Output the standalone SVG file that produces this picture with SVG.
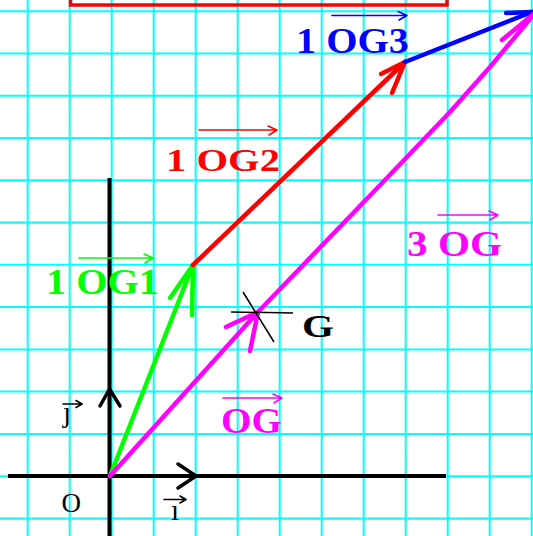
<svg xmlns="http://www.w3.org/2000/svg" width="533" height="536" viewBox="0 0 533 536">
<defs>
<style>
.grid line{stroke:#00FFFF;stroke-width:2}
.axis{stroke:#000;stroke-width:4;fill:none}
.axhead{stroke:#000;stroke-width:3.5;fill:none;stroke-linecap:round;stroke-linejoin:round}
.vec{fill:none;stroke-width:4.5;stroke-linecap:round;stroke-linejoin:round}
.over{fill:none;stroke-width:1.6;stroke-linecap:round;stroke-linejoin:round}
.lbl{font-family:"Liberation Serif","Times New Roman",serif;font-weight:bold}
.plain{font-family:"Liberation Serif","Times New Roman",serif;fill:#000}
</style>
</defs>
<rect width="533" height="536" fill="#FFFFFF"/>
<g class="grid" id="grid">
<line x1="27.7" y1="0" x2="27.7" y2="536"/>
<line x1="69.7" y1="0" x2="69.7" y2="536"/>
<line x1="111.7" y1="0" x2="111.7" y2="536"/>
<line x1="153.7" y1="0" x2="153.7" y2="536"/>
<line x1="195.7" y1="0" x2="195.7" y2="536"/>
<line x1="237.7" y1="0" x2="237.7" y2="536"/>
<line x1="279.7" y1="0" x2="279.7" y2="536"/>
<line x1="321.7" y1="0" x2="321.7" y2="536"/>
<line x1="363.7" y1="0" x2="363.7" y2="536"/>
<line x1="405.7" y1="0" x2="405.7" y2="536"/>
<line x1="447.7" y1="0" x2="447.7" y2="536"/>
<line x1="489.7" y1="0" x2="489.7" y2="536"/>
<line x1="531.7" y1="0" x2="531.7" y2="536"/>
<line x1="0" y1="11.2" x2="533" y2="11.2"/>
<line x1="0" y1="53.5" x2="533" y2="53.5"/>
<line x1="0" y1="95.7" x2="533" y2="95.7"/>
<line x1="0" y1="138" x2="533" y2="138"/>
<line x1="0" y1="180.3" x2="533" y2="180.3"/>
<line x1="0" y1="222.5" x2="533" y2="222.5"/>
<line x1="0" y1="264.8" x2="533" y2="264.8"/>
<line x1="0" y1="307.1" x2="533" y2="307.1"/>
<line x1="0" y1="349.4" x2="533" y2="349.4"/>
<line x1="0" y1="391.6" x2="533" y2="391.6"/>
<line x1="0" y1="433.9" x2="533" y2="433.9"/>
<line x1="0" y1="476.2" x2="533" y2="476.2"/>
<line x1="0" y1="518.4" x2="533" y2="518.4"/>
</g>
<rect id="frame" x="70.5" y="-20" width="376.5" height="25" fill="none" stroke="#FF0000" stroke-width="3.5"/>
<g id="axes">
<line class="axis" x1="8" y1="476" x2="446" y2="476"/>
<line class="axis" x1="109.5" y1="178" x2="109.5" y2="536"/>
<polyline class="axhead" points="178,464 196,476 178,488"/>
<polyline class="axhead" points="100,406 109.5,389 120,406"/>
</g>
<g id="connectors">
<g id="vec-OG1" stroke="#00FF00">
<line class="vec" x1="110" y1="476" x2="193" y2="265"/>
<polyline class="vec" points="170,298 193,265 192,315"/>
</g>
<g id="vec-OG2" stroke="#FF0000">
<line class="vec" x1="193" y1="265" x2="405" y2="62"/>
<polyline class="vec" points="381,74 405,62 392,93"/>
</g>
<g id="vec-OG3" stroke="#0000FF">
<line class="vec" x1="405" y1="62" x2="532" y2="12"/>
<polyline class="vec" points="506,13 532,12"/>
</g>
<g id="vec-3OG" stroke="#FF00FF">
<polyline class="vec" points="110,476 258,312 384,181 450,112 490,67 536,12"/>
<polyline class="vec" points="226,327 258,312 250,351"/>
<polyline class="vec" points="502,40 536,12"/>
</g>
</g>
<g id="G-mark" stroke="#000" stroke-width="1.5">
<line x1="231" y1="312" x2="293" y2="313"/>
<line x1="243" y1="292" x2="274" y2="342"/>
</g>
<g id="label-OG1">
<path class="over" stroke="#00FF00" d="M79 258 H153 M144 254 L153 258 L145 263"/>
<text class="lbl" fill="#00FF00" x="46" y="294" font-size="35" textLength="113" lengthAdjust="spacingAndGlyphs">1 OG1</text>
</g>
<g id="label-OG2">
<path class="over" stroke="#FF0000" d="M199 130 H277 M268 126 L277 130 L269 135"/>
<text class="lbl" fill="#FF0000" x="166" y="171" font-size="32" textLength="114" lengthAdjust="spacingAndGlyphs">1 OG2</text>
</g>
<g id="label-OG3">
<path class="over" stroke="#0000FF" d="M332 15.5 H407 M398 11.5 L407 15.5 L399 20"/>
<text class="lbl" fill="#0000FF" x="296" y="52.5" font-size="36" textLength="113" lengthAdjust="spacingAndGlyphs">1 OG3</text>
</g>
<g id="label-3OG">
<path class="over" stroke="#FF00FF" d="M438 215 H498 M489 211 L498 215 L490 220"/>
<text class="lbl" fill="#FF00FF" x="407" y="256" font-size="35" textLength="95" lengthAdjust="spacingAndGlyphs">3 OG</text>
</g>
<g id="label-OG">
<path class="over" stroke="#FF00FF" d="M223 398 H282 M273 394 L282 398 L274 403"/>
<text class="lbl" fill="#FF00FF" x="221" y="433" font-size="35" textLength="61" lengthAdjust="spacingAndGlyphs">OG</text>
</g>
<g id="label-G">
<text class="lbl" fill="#000" x="302" y="337" font-size="31" textLength="32" lengthAdjust="spacingAndGlyphs">G</text>
</g>
<g id="label-O">
<text class="plain" x="61.5" y="512" font-size="27">O</text>
</g>
<g id="label-i">
<path class="over" stroke="#000" stroke-width="1.3" d="M164 499.5 H186 M180 496 L186 499.5 L180 503"/>
<text class="plain" x="175" y="520" font-size="29" text-anchor="middle">ı</text>
</g>
<g id="label-j">
<path class="over" stroke="#000" stroke-width="1.3" d="M63 404 H82 M76 400.5 L82 404 L76 407.5"/>
<text class="plain" x="67" y="422" font-size="29" text-anchor="middle">ȷ</text>
</g>
</svg>
